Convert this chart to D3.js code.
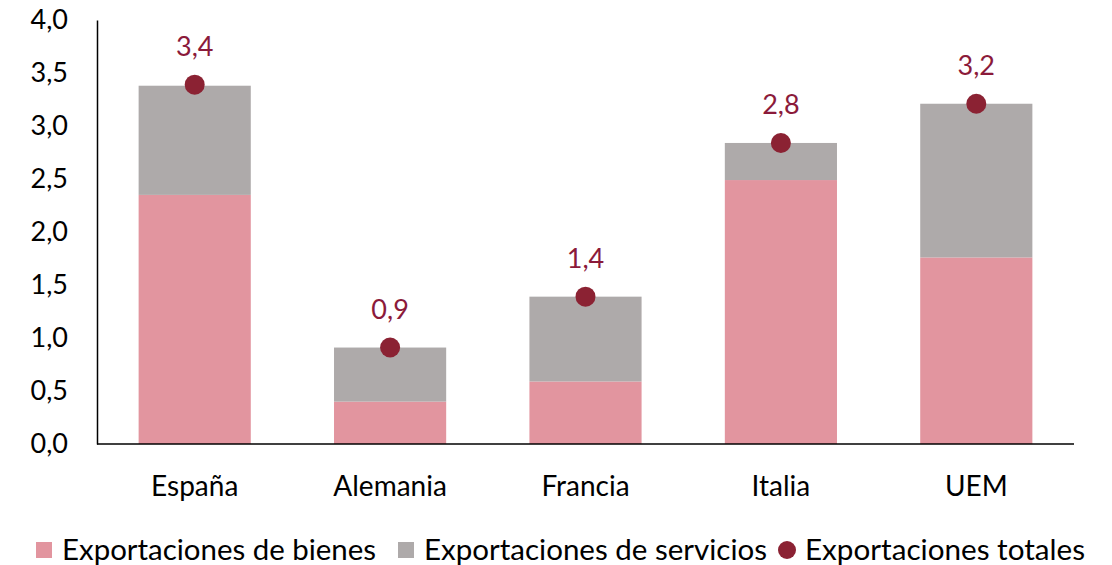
<!DOCTYPE html>
<html>
<head>
<meta charset="utf-8">
<script src="https://cdn.jsdelivr.net/npm/d3@7"></script>
<style>
  body { margin: 0; background: #fff; }
  text { font-family: "Lato", "Open Sans", sans-serif; }
</style>
</head>
<body>
<svg width="1112" height="565"></svg>
<script>
// datos
const countries = ['España', 'Alemania', 'Francia', 'Italia', 'UEM'];
const bienes    = [2.35, 0.40, 0.59, 2.49, 1.76];
const servicios = [1.03, 0.51, 0.80, 0.35, 1.45];
const totales   = [3.39, 0.91, 1.39, 2.84, 3.21];
const yTicks = [0, 0.5, 1, 1.5, 2, 2.5, 3, 3.5, 4];
const seriesNames = ['Exportaciones de bienes', 'Exportaciones de servicios', 'Exportaciones totales'];

const colBienes = '#e2959f';
const colServ = '#aeaaaa';
const colTotal = '#8b2233';
const colLabel = '#8b1a3a';

const svg = d3.select('svg');
const margin = {left: 97, right: 38, top: 20, bottom: 121};
const width = +svg.attr('width');
const height = +svg.attr('height');

const x = d3.scaleBand()
  .domain(countries)
  .range([margin.left, width - margin.right])
  .paddingInner(0.426)
  .paddingOuter(0.213);

const y = d3.scaleLinear()
  .domain([0, 4])
  .range([height - margin.bottom, margin.top]);

const fmt = v => d3.format('.1f')(v).replace('.', ',');

// barras
const g = svg.append('g');
g.selectAll('rect.bienes')
  .data(countries)
  .enter().append('rect')
  .attr('x', d => x(d))
  .attr('width', x.bandwidth())
  .attr('y', (d, i) => y(bienes[i]))
  .attr('height', (d, i) => y(0) - y(bienes[i]))
  .attr('fill', colBienes);

g.selectAll('rect.serv')
  .data(countries)
  .enter().append('rect')
  .attr('x', d => x(d))
  .attr('width', x.bandwidth())
  .attr('y', (d, i) => y(bienes[i] + servicios[i]))
  .attr('height', (d, i) => y(bienes[i]) - y(bienes[i] + servicios[i]))
  .attr('fill', colServ);

// ejes
const yAxis = svg.append('g')
  .attr('transform', `translate(${margin.left},0)`)
  .call(d3.axisLeft(y).tickValues(yTicks).tickSize(0).tickPadding(29).tickFormat(fmt));
yAxis.select('.domain').attr('stroke', '#000').attr('stroke-width', 1.5);
yAxis.selectAll('text').attr('font-size', 27).attr('fill', '#000');

const xAxis = svg.append('g')
  .attr('transform', `translate(0,${y(0)})`)
  .call(d3.axisBottom(x).tickSize(0).tickPadding(32));
xAxis.select('.domain').attr('stroke', '#000').attr('stroke-width', 1.5)
  .attr('d', `M${margin.left},0H${width - margin.right}`);
xAxis.selectAll('text').attr('font-size', 28).attr('fill', '#000');

// puntos y etiquetas
svg.selectAll('circle.total')
  .data(countries)
  .enter().append('circle')
  .attr('cx', d => x(d) + x.bandwidth() / 2)
  .attr('cy', (d, i) => y(totales[i]))
  .attr('r', 10)
  .attr('fill', colTotal);

svg.selectAll('text.lbl')
  .data(countries)
  .enter().append('text')
  .attr('x', d => x(d) + x.bandwidth() / 2)
  .attr('y', (d, i) => y(totales[i]) - 29)
  .attr('text-anchor', 'middle')
  .attr('font-size', 27)
  .attr('fill', colLabel)
  .text((d, i) => fmt(totales[i]));

// leyenda
const leg = svg.append('g').attr('transform', 'translate(0,550)');
const legX = [36, 398, 779];
const legW = [314, 343, 280];
const legCols = [colBienes, colServ, colTotal];
seriesNames.forEach((name, i) => {
  if (i < 2) {
    leg.append('rect').attr('x', legX[i]).attr('y', -8).attr('width', 16).attr('height', 16).attr('fill', legCols[i]);
  } else {
    leg.append('circle').attr('cx', legX[i] + 8).attr('cy', 0).attr('r', 9).attr('fill', legCols[i]);
  }
  leg.append('text')
    .attr('x', legX[i] + (i < 2 ? 26 : 26))
    .attr('y', 0)
    .attr('dy', '0.35em')
    .attr('font-size', 28)
    .attr('textLength', legW[i])
    .attr('lengthAdjust', 'spacingAndGlyphs')
    .attr('fill', '#000')
    .text(name);
});
</script>
</body>
</html>
